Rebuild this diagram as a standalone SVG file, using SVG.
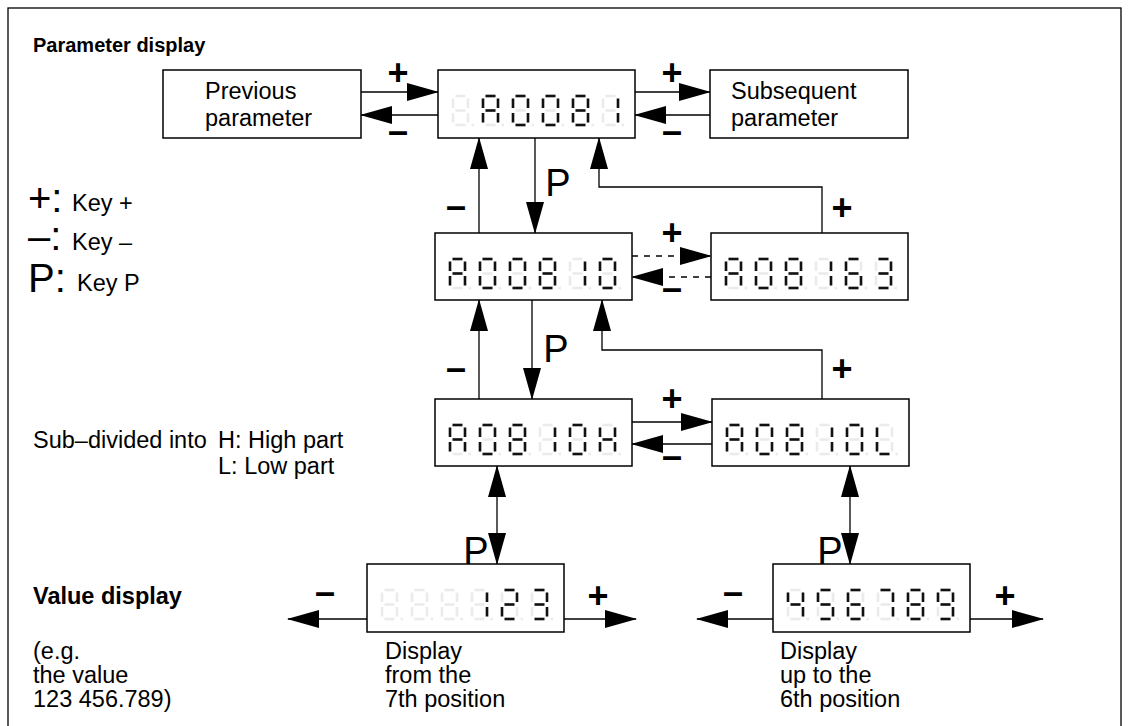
<svg xmlns="http://www.w3.org/2000/svg" xmlns:xlink="http://www.w3.org/1999/xlink" width="1130" height="726" viewBox="0 0 1130 726">
<style>
text{font-family:"Liberation Sans",Arial,sans-serif;fill:#000}
.t{font-size:23.5px}
.h{font-size:20px;font-weight:bold}
.v{font-size:23.5px;font-weight:bold}
.big{font-size:40px}
.k{font-size:36px;font-weight:bold;text-anchor:middle}
.p{font-size:38px;text-anchor:middle}
.box{fill:#fff;stroke:#000;stroke-width:1.5}
.ln{fill:none;stroke:#000;stroke-width:1.3}
.dash{stroke-dasharray:6,6}
.on{fill:none;stroke:#111;stroke-width:2.6}
.off{stroke:#ebebeb}
</style>
<defs>
<marker id="ah" markerUnits="userSpaceOnUse" markerWidth="32" markerHeight="18" refX="31" refY="9" orient="auto-start-reverse"><path d="M0,0L32,9L0,18z" fill="#000"/></marker>
<path id="a" d="M2.5,0H12.5"/>
<path id="b" d="M15,2.5V12"/>
<path id="c" d="M15,17V26.5"/>
<path id="d" d="M2.5,29H12.5"/>
<path id="e" d="M0,17V26.5"/>
<path id="f" d="M0,2.5V12"/>
<path id="g" d="M2.5,14.5H12.5"/>
<g id="s8"><use href="#a"/><use href="#b"/><use href="#c"/><use href="#d"/><use href="#e"/><use href="#f"/><use href="#g"/><path d="M18.5,29H21"/></g>
<g id="n0"><use href="#s8" class="off"/><use href="#a"/><use href="#b"/><use href="#c"/><use href="#d"/><use href="#e"/><use href="#f"/></g>
<g id="n1"><use href="#s8" class="off"/><use href="#b"/><use href="#c"/></g>
<g id="n2"><use href="#s8" class="off"/><use href="#a"/><use href="#b"/><use href="#g"/><use href="#e"/><use href="#d"/></g>
<g id="n3"><use href="#s8" class="off"/><use href="#a"/><use href="#b"/><use href="#g"/><use href="#c"/><use href="#d"/></g>
<g id="n4"><use href="#s8" class="off"/><use href="#f"/><use href="#g"/><use href="#b"/><use href="#c"/></g>
<g id="n5"><use href="#s8" class="off"/><use href="#a"/><use href="#f"/><use href="#g"/><use href="#c"/><use href="#d"/></g>
<g id="n6"><use href="#s8" class="off"/><use href="#a"/><use href="#f"/><use href="#g"/><use href="#e"/><use href="#c"/><use href="#d"/></g>
<g id="n7"><use href="#s8" class="off"/><use href="#a"/><use href="#b"/><use href="#c"/></g>
<g id="n8"><use href="#s8" class="off"/><use href="#a"/><use href="#b"/><use href="#c"/><use href="#d"/><use href="#e"/><use href="#f"/><use href="#g"/></g>
<g id="n9"><use href="#s8" class="off"/><use href="#a"/><use href="#b"/><use href="#c"/><use href="#d"/><use href="#f"/><use href="#g"/></g>
<g id="nA"><use href="#s8" class="off"/><use href="#a"/><use href="#b"/><use href="#c"/><use href="#e"/><use href="#f"/><use href="#g"/></g>
<g id="nH"><use href="#s8" class="off"/><use href="#b"/><use href="#c"/><use href="#e"/><use href="#f"/><use href="#g"/></g>
<g id="nL"><use href="#s8" class="off"/><use href="#d"/><use href="#e"/><use href="#f"/></g>
<g id="nX"><use href="#s8" class="off"/></g>
</defs>

<rect x="8" y="8" width="1113" height="760" fill="none" stroke="#000" stroke-width="1.3"/>

<text class="h" x="33" y="52">Parameter display</text>

<g id="legend">
<text class="big" x="28" y="212">+:</text>
<text class="t" x="72" y="211">Key +</text>
<text class="big" x="28" y="250">–:</text>
<text class="t" x="72" y="250">Key –</text>
<text class="big" x="28" y="292">P:</text>
<text class="t" x="77" y="291">Key P</text>
</g>

<g id="subdiv">
<text class="t" x="33" y="448">Sub–divided into</text>
<text class="t" x="218" y="448">H: High part</text>
<text class="t" x="218" y="474">L: Low part</text>
</g>

<g id="valuetext">
<text class="v" x="33" y="604">Value display</text>
<text class="t" x="33" y="659">(e.g.</text>
<text class="t" x="33" y="683">the value</text>
<text class="t" x="33" y="707">123 456.789)</text>
</g>

<g id="connectors" class="ln" marker-end="url(#ah)">
<path d="M361,92H438"/>
<path d="M438,115H361"/>
<path d="M635,92H710"/>
<path d="M710,115H635"/>
<path d="M479,233V138"/>
<path d="M535,138V233"/>
<path d="M822,233V187H599V138"/>
<path class="dash" d="M632,256H711"/>
<path class="dash" d="M711,277H632"/>
<path d="M479,399V300"/>
<path d="M532,300V399"/>
<path d="M822,399V350H602V300"/>
<path d="M632,422H712"/>
<path d="M712,444H632"/>
<path d="M497,466V564" marker-start="url(#ah)"/>
<path d="M850,466V564" marker-start="url(#ah)"/>
<path d="M367,619H288"/>
<path d="M564,619H636"/>
<path d="M773,619H697"/>
<path d="M970,619H1043"/>
</g>

<g id="keylabels">
<text class="k" x="398" y="85">+</text>
<text class="k" x="398" y="143">–</text>
<text class="k" x="672" y="85">+</text>
<text class="k" x="672" y="143">–</text>
<text class="k" x="456" y="218">–</text>
<text class="p" x="558" y="196">P</text>
<text class="k" x="842" y="220">+</text>
<text class="k" x="672" y="245">+</text>
<text class="k" x="672" y="300">–</text>
<text class="k" x="456" y="380">–</text>
<text class="p" x="556" y="362">P</text>
<text class="k" x="842" y="381">+</text>
<text class="k" x="672" y="411">+</text>
<text class="k" x="672" y="468">–</text>
<text class="p" x="476" y="564">P</text>
<text class="p" x="830" y="564">P</text>
<text class="k" x="325" y="604">–</text>
<text class="k" x="598" y="608">+</text>
<text class="k" x="733" y="604">–</text>
<text class="k" x="1005" y="608">+</text>
</g>

<g id="prev">
<rect class="box" x="163" y="70" width="198" height="68"/>
<text class="t" x="205" y="99">Previous</text>
<text class="t" x="205" y="126">parameter</text>
</g>

<g id="next">
<rect class="box" x="710" y="70" width="198" height="68"/>
<text class="t" x="731" y="99">Subsequent</text>
<text class="t" x="731" y="126">parameter</text>
</g>

<g id="d1">
<rect class="box" x="438" y="70" width="197" height="68"/>
<g class="on">
<use href="#nX" x="453" y="96"/><use href="#nA" x="483" y="96"/><use href="#n0" x="513" y="96"/><use href="#n0" x="543" y="96"/><use href="#n8" x="573" y="96"/><use href="#n1" x="603" y="96"/>
</g>
</g>

<g id="d2">
<rect class="box" x="435" y="233" width="197" height="67"/>
<g class="on">
<use href="#nA" x="450" y="259"/><use href="#n0" x="480" y="259"/><use href="#n0" x="510" y="259"/><use href="#n8" x="540" y="259"/><use href="#n1" x="570" y="259"/><use href="#n0" x="600" y="259"/>
</g>
</g>

<g id="d2r">
<rect class="box" x="711" y="233" width="197" height="67"/>
<g class="on">
<use href="#nA" x="726" y="259"/><use href="#n0" x="756" y="259"/><use href="#n8" x="786" y="259"/><use href="#n1" x="816" y="259"/><use href="#n6" x="846" y="259"/><use href="#n3" x="876" y="259"/>
</g>
</g>

<g id="d3">
<rect class="box" x="435" y="399" width="197" height="67"/>
<g class="on">
<use href="#nA" x="450" y="425"/><use href="#n0" x="480" y="425"/><use href="#n8" x="510" y="425"/><use href="#n1" x="540" y="425"/><use href="#n0" x="570" y="425"/><use href="#nH" x="600" y="425"/>
</g>
</g>

<g id="d3r">
<rect class="box" x="712" y="399" width="197" height="67"/>
<g class="on">
<use href="#nA" x="727" y="425"/><use href="#n0" x="757" y="425"/><use href="#n8" x="787" y="425"/><use href="#n1" x="817" y="425"/><use href="#n0" x="847" y="425"/><use href="#nL" x="877" y="425"/>
</g>
</g>

<g id="d4">
<rect class="box" x="367" y="564" width="197" height="68"/>
<g class="on">
<use href="#nX" x="382" y="590"/><use href="#nX" x="412" y="590"/><use href="#nX" x="442" y="590"/><use href="#n1" x="472" y="590"/><use href="#n2" x="502" y="590"/><use href="#n3" x="532" y="590"/>
</g>
<text class="t" x="385" y="659">Display</text>
<text class="t" x="385" y="683">from the</text>
<text class="t" x="385" y="707">7th position</text>
</g>

<g id="d4r">
<rect class="box" x="773" y="564" width="197" height="68"/>
<g class="on">
<use href="#n4" x="788" y="590"/><use href="#n5" x="818" y="590"/><use href="#n6" x="848" y="590"/><use href="#n7" x="878" y="590"/><use href="#n8" x="908" y="590"/><use href="#n9" x="938" y="590"/>
</g>
<text class="t" x="780" y="659">Display</text>
<text class="t" x="780" y="683">up to the</text>
<text class="t" x="780" y="707">6th position</text>
</g>
</svg>
